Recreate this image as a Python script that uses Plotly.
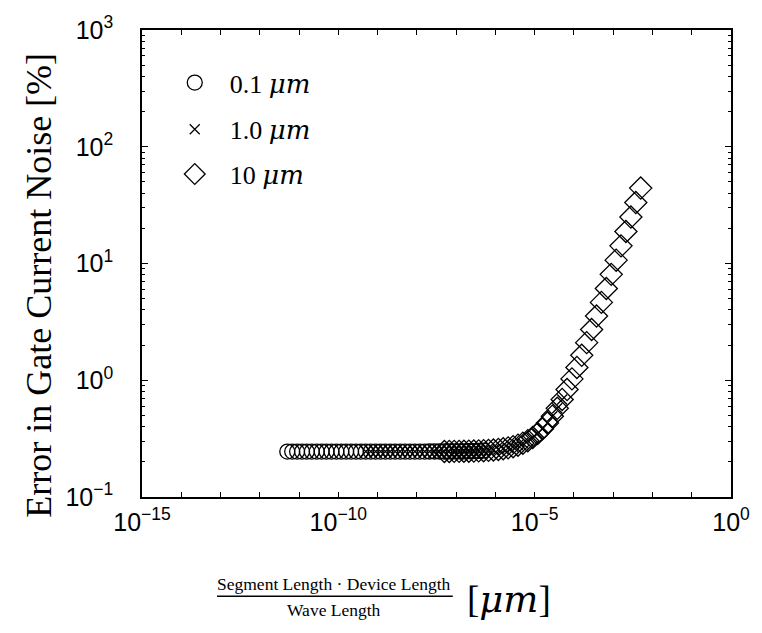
import plotly.graph_objects as go

# ---- data ----
# x = Segment Length * Device Length / Wave Length [um], y = error [%]
x_01um = [5.01e-12, 6.68e-12, 8.91e-12, 1.19e-11, 1.58e-11, 2.11e-11, 2.82e-11, 3.76e-11,
          5.01e-11, 6.68e-11, 8.91e-11, 1.19e-10, 1.58e-10, 2.11e-10, 2.82e-10, 3.76e-10,
          5.01e-10, 6.68e-10, 8.91e-10, 1.19e-09, 1.58e-09, 2.11e-09, 2.82e-09, 3.76e-09,
          5.01e-09, 6.68e-09, 8.91e-09, 1.19e-08, 1.58e-08, 2.11e-08, 2.82e-08, 3.76e-08,
          5.01e-08, 6.68e-08, 8.91e-08, 1.19e-07, 1.58e-07, 2.11e-07, 2.82e-07, 3.76e-07,
          5.01e-07]
y_01um = [0.245, 0.245, 0.245, 0.245, 0.245, 0.245, 0.245, 0.245,
          0.245, 0.245, 0.245, 0.245, 0.245, 0.245, 0.245, 0.245,
          0.245, 0.245, 0.245, 0.245, 0.245, 0.245, 0.245, 0.245,
          0.245, 0.245, 0.2451, 0.2451, 0.2451, 0.2452, 0.2452, 0.2453,
          0.2454, 0.2456, 0.2458, 0.2460, 0.2464, 0.2469, 0.2475, 0.2483,
          0.2494]

x_1um = [5.01e-10, 6.68e-10, 8.91e-10, 1.19e-09, 1.58e-09, 2.11e-09, 2.82e-09, 3.76e-09,
         5.01e-09, 6.68e-09, 8.91e-09, 1.19e-08, 1.58e-08, 2.11e-08, 2.82e-08, 3.76e-08,
         5.01e-08, 6.68e-08, 8.91e-08, 1.19e-07, 1.58e-07, 2.11e-07, 2.82e-07, 3.76e-07,
         5.01e-07, 6.68e-07, 8.91e-07, 1.19e-06, 1.58e-06, 2.11e-06, 2.82e-06, 3.76e-06,
         5.01e-06, 6.68e-06, 8.91e-06, 1.19e-05, 1.58e-05, 2.11e-05, 2.82e-05, 3.76e-05,
         5.01e-05]
y_1um = [0.245, 0.245, 0.245, 0.245, 0.245, 0.245, 0.245, 0.245,
         0.245, 0.245, 0.2451, 0.2451, 0.2451, 0.2452, 0.2452, 0.2453,
         0.2454, 0.2456, 0.2458, 0.2460, 0.2464, 0.2469, 0.2475, 0.2483,
         0.2494, 0.2509, 0.2528, 0.2554, 0.2589, 0.2636, 0.2697, 0.278,
         0.289, 0.3037, 0.3232, 0.3493, 0.384, 0.4305, 0.4924, 0.575,
         0.685]

x_10um = [5.01e-08, 6.68e-08, 8.91e-08, 1.19e-07, 1.58e-07, 2.11e-07, 2.82e-07, 3.76e-07,
          5.01e-07, 6.68e-07, 8.91e-07, 1.19e-06, 1.58e-06, 2.11e-06, 2.82e-06, 3.76e-06,
          5.01e-06, 6.68e-06, 8.91e-06, 1.19e-05, 1.58e-05, 2.11e-05, 2.82e-05, 3.76e-05,
          5.01e-05, 6.68e-05, 8.91e-05, 1.19e-04, 1.58e-04, 2.11e-04, 2.82e-04, 3.76e-04,
          5.01e-04, 6.68e-04, 8.91e-04, 1.19e-03, 1.58e-03, 2.11e-03, 2.82e-03, 3.76e-03,
          5.01e-03]
y_10um = [0.2454, 0.2456, 0.2458, 0.2460, 0.2464, 0.2469, 0.2475, 0.2483,
          0.2494, 0.2509, 0.2528, 0.2554, 0.2589, 0.2636, 0.2697, 0.278,
          0.289, 0.3037, 0.3232, 0.3493, 0.384, 0.4305, 0.4924, 0.575,
          0.685, 0.832, 1.027, 1.288, 1.636, 2.10, 2.72, 3.545,
          4.645, 6.11, 8.07, 10.68, 14.16, 18.80, 24.99, 33.25,
          44.25]

MU = "<span style='font-family:DejaVu Serif'><i>μm</i></span>"
series_names = ["0.1 " + MU, "1.0 " + MU, "10 " + MU]

x_tickvals = [1e-15, 1e-14, 1e-13, 1e-12, 1e-11, 1e-10, 1e-09, 1e-08,
              1e-07, 1e-06, 1e-05, 1e-04, 1e-03, 1e-02, 1e-01, 1e0]
x_ticktext = ["10<sup>−15</sup>", "", "", "", "", "10<sup>−10</sup>", "", "", "", "",
              "10<sup>−5</sup>", "", "", "", "", "10<sup>0</sup>"]
y_tickvals = [0.1, 1, 10, 100, 1000]
y_ticktext = ["10<sup>−1</sup>", "10<sup>0</sup>", "10<sup>1</sup>", "10<sup>2</sup>", "10<sup>3</sup>"]

# ---- figure ----
W, H = 762, 633
P_L, P_R, P_T, P_B = 142, 739, 27, 497          # plot frame in page pixels
L, T, R, B = P_L, P_T, W - P_R, H - P_B
pw, ph = P_R - P_L, P_B - P_T

def px(xp):
    return (xp - P_L) / pw

def py(yp):
    return (P_B - yp) / ph

fig = go.Figure()
fig.add_trace(go.Scatter(
    x=x_01um, y=y_01um, mode="markers", name=series_names[0], legend="legend",
    marker=dict(symbol="circle-open", size=15, color="black", line=dict(width=1.3, color="black"))))
fig.add_trace(go.Scatter(
    x=x_1um, y=y_1um, mode="markers", name=series_names[1], legend="legend2",
    marker=dict(symbol="x-thin-open", size=10, color="black", line=dict(width=1.3, color="black"))))
fig.add_trace(go.Scatter(
    x=x_10um, y=y_10um, mode="markers", name=series_names[2], legend="legend3",
    marker=dict(symbol="diamond-open", size=17, color="black", line=dict(width=1.3, color="black"))))

leg_common = dict(bgcolor="rgba(0,0,0,0)", borderwidth=0, xanchor="left", yanchor="middle",
                  font=dict(family="Liberation Serif", size=26, color="black"), itemwidth=60)
legend_rows = [80, 127, 172]
leg_x = 160

y_minor = [m * 10 ** k for k in range(-1, 3) for m in range(2, 10)]

fig.update_layout(
    width=W, height=H,
    margin=dict(l=L, r=R, t=T, b=B),
    paper_bgcolor="white", plot_bgcolor="white",
    showlegend=True,
    legend=dict(x=px(leg_x), y=py(legend_rows[0]), **leg_common),
    legend2=dict(x=px(leg_x), y=py(legend_rows[1]), **leg_common),
    legend3=dict(x=px(leg_x), y=py(legend_rows[2]), **leg_common),
    font=dict(family="Liberation Sans", color="black"),
    xaxis=dict(type="log", range=[-15, 0], showgrid=False, zeroline=False,
               tickmode="array", tickvals=x_tickvals, ticktext=x_ticktext,
               ticks="inside", ticklen=5, tickwidth=1, tickcolor="black",
               showline=True, linecolor="black", linewidth=1.6, mirror="ticks",
               tickfont=dict(family="Liberation Sans", size=25, color="black"),
               ticklabelstandoff=2),
    yaxis=dict(type="log", range=[-1, 3], showgrid=False, zeroline=False,
               tickmode="array", tickvals=y_tickvals, ticktext=y_ticktext,
               ticks="inside", ticklen=6, tickwidth=1, tickcolor="black",
               showline=True, linecolor="black", linewidth=1.6, mirror="ticks",
               minor=dict(tickmode="array", tickvals=y_minor, ticks="inside", ticklen=3,
                          tickcolor="black", tickwidth=1, showgrid=False),
               tickfont=dict(family="Liberation Sans", size=25, color="black"),
               ticklabelstandoff=22),
)

serif = "Liberation Serif"
fig.add_annotation(text="Error in Gate Current Noise [%]", textangle=-90,
                   xref="paper", yref="paper", x=px(38), y=py(284),
                   showarrow=False, font=dict(family=serif, size=36, color="black"),
                   xanchor="center", yanchor="middle")
fig.add_annotation(text="Segment Length · Device Length", xref="paper", yref="paper",
                   x=px(337), y=py(585), showarrow=False,
                   font=dict(family=serif, size=17.5, color="black"),
                   xanchor="center", yanchor="middle")
fig.add_annotation(text="Wave Length", xref="paper", yref="paper",
                   x=px(337), y=py(611), showarrow=False,
                   font=dict(family=serif, size=17.5, color="black"),
                   xanchor="center", yanchor="middle")
fig.add_annotation(text="[" + MU + "]", xref="paper", yref="paper",
                   x=px(469), y=py(600), showarrow=False,
                   font=dict(family=serif, size=37, color="black"),
                   xanchor="left", yanchor="middle")
fig.add_shape(type="line", xref="paper", yref="paper",
              x0=px(218), x1=px(457), y0=py(597), y1=py(597),
              line=dict(color="black", width=1.5))

fig.write_html("out.html", config={"displayModeBar": False},
               post_script="document.body.style.margin='0';")
